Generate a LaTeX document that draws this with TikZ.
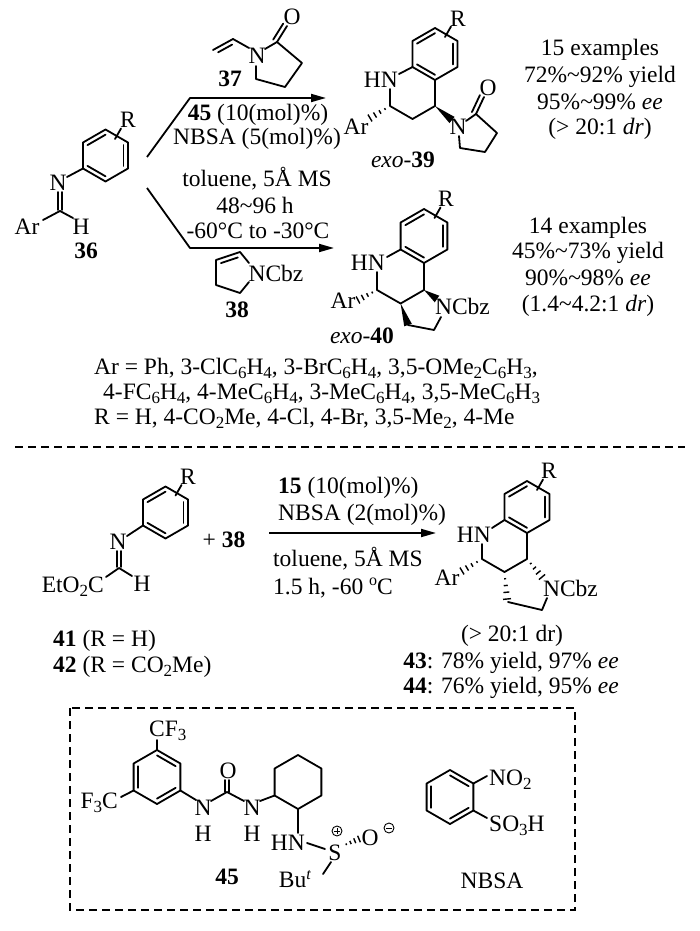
\documentclass[tikz,border=0pt]{standalone}
\usepackage{fontspec}
\setmainfont{Liberation Serif}
\usetikzlibrary{calc,arrows.meta}
\newcommand\fs{\fontsize{23.5}{27}\selectfont}
\newcommand\sub[1]{\raisebox{-4.5pt}{\fontsize{17}{17}\selectfont #1}}
\newcommand\sups[1]{\raisebox{8.5pt}{\fontsize{16}{16}\selectfont #1}}
\newcommand\hexcoords[4]{%
 \coordinate (#1c) at (#2,#3);
 \coordinate (#1T) at (#2,#3-#4);
 \coordinate (#1UR) at (#2+0.866*#4,#3-0.5*#4);
 \coordinate (#1LR) at (#2+0.866*#4,#3+0.5*#4);
 \coordinate (#1B) at (#2,#3+#4);
 \coordinate (#1LL) at (#2-0.866*#4,#3+0.5*#4);
 \coordinate (#1UL) at (#2-0.866*#4,#3-0.5*#4);}
\newcommand\hexdraw[1]{\draw[bd] (#1T)--(#1UR)--(#1LR)--(#1B)--(#1LL)--(#1UL)--cycle;}
\newcommand\innerbd[3]{\draw[bd] ($(#1)!0.2!(#3)$) -- ($(#2)!0.2!(#3)$);}
\newcommand\dblside[4]{\draw[bd] ($(#1)!#4!(#2)!#3!-90:(#2)$) -- ($(#2)!#4!(#1)!#3!90:(#1)$);}
\newcommand\wedgebd[3]{\fill (#1) -- ($(#2)!#3!90:(#1)$) -- ($(#2)!#3!-90:(#1)$) -- cycle;}
\newcommand\hashbd[3]{\foreach \t [evaluate=\t as \w using \t*#3] in {0.25,0.5,0.75,1.0}{\draw[hs] ($(#1)!\t!(#2)!\w pt!90:(#1)$) -- ($(#1)!\t!(#2)!\w pt!-90:(#1)$);}}
\begin{document}
\begin{tikzpicture}[x=1pt,y=-1pt,
  bd/.style={line width=1.8pt, line cap=round, line join=round},
  hs/.style={line width=1.4pt},
  tx/.style={inner sep=0pt, font=\fs},
  tb/.style={tx, anchor=base},
  arr/.style={line width=1.8pt, line join=round, -{Triangle[length=15pt,width=8pt]}},
  dsh/.style={line width=1.6pt, dash pattern=on 8pt off 5pt},
  chg/.style={circle, draw, line width=0.9pt, minimum size=10pt, inner sep=0pt}]
\useasboundingbox (0,0) rectangle (700,931);
\fill[white] (0,0) rectangle (700,931);

% ---------- 36 ----------
\hexcoords{a}{105.5}{155.5}{26}
\hexdraw{a}
\innerbd{aUL}{aT}{ac}\innerbd{aUR}{aLR}{ac}\innerbd{aB}{aLL}{ac}
\coordinate (aR1) at (115,139); \coordinate (aR2) at (121,128.5);
\draw[bd] (aR1)--(aR2);
\node[tx] (t36R) at (128,120) {R};
\node[tx] (t36N) at (58,183) {N};
\coordinate (a36N) at (67,177);
\draw[bd] (aLL)--(a36N);
\coordinate (a36Na) at (57.8,192); \coordinate (a36Ca) at (57.8,210);
\coordinate (a36Nb) at (62.2,192); \coordinate (a36Cb) at (62.2,210);
\draw[bd] (a36Na)--(a36Ca); \draw[bd] (a36Nb)--(a36Cb);
\coordinate (a36C) at (60,211);
\coordinate (a36Ar) at (43,220); \coordinate (a36H) at (73,218);
\draw[bd] (a36Ar)--(a36C)--(a36H);
\node[tx] (t36Ar) at (27,227) {Ar};
\node[tx] (t36H) at (81,227) {H};
\node[tx] (t36) at (86,251) {\textbf{36}};

% ---------- arrows ----------
\coordinate (ua0) at (147,157); \coordinate (ua1) at (190,98); \coordinate (ua2) at (326,98);
\draw[arr] (ua0)--(ua1)--(ua2);
\coordinate (la0) at (147,188); \coordinate (la1) at (190,248); \coordinate (la2) at (334,248);
\draw[arr] (la0)--(la1)--(la2);

\node[tb] (c1) at (258,121) {\textbf{45} (10(mol)\%)};
\node[tb] (c2) at (257,145) {NBSA (5(mol)\%)};
\node[tb] (c3) at (257,186) {toluene, 5Å MS};
\node[tb] (c4) at (255,213) {48\textasciitilde 96 h};
\node[tb] (c5) at (258,238) {-60°C to -30°C};

% ---------- 37 ----------
\coordinate (v1) at (213,50); \coordinate (v2) at (233,39); \coordinate (v3) at (249,48);
\draw[bd] (v1)--(v2)--(v3);
\dblside{v1}{v2}{4.5pt}{0.15}
\node[tx] (t37N) at (257,56) {N};
\coordinate (p37n1) at (265,49); \coordinate (p37c1) at (277,42); \coordinate (p37c2) at (302,63);
\coordinate (p37c3) at (285,87); \coordinate (p37c4) at (256,79); \coordinate (p37n2) at (256,66);
\draw[bd] (p37n1)--(p37c1)--(p37c2)--(p37c3)--(p37c4)--(p37n2);
\coordinate (p37o) at (287,26);
\draw[bd] (p37c1)--(p37o); \dblside{p37c1}{p37o}{-4.5pt}{0}
\node[tx] (t37O) at (292,17) {O};
\node[tx] (t37) at (230,79) {\textbf{37}};

% ---------- 38 ----------
\coordinate (p38a) at (216,260); \coordinate (p38b) at (240,252); \coordinate (p38bn) at (249,263);
\coordinate (p38e) at (216,285); \coordinate (p38d) at (240,293); \coordinate (p38dn) at (249,282);
\draw[bd] (p38bn)--(p38b)--(p38a)--(p38e)--(p38d)--(p38dn);
\dblside{p38a}{p38b}{4.5pt}{0.15}
\node[tx] (t38N) at (276,273) {NCbz};
\node[tx] (t38) at (237,310) {\textbf{38}};

% ---------- exo-39 ----------
\hexcoords{b}{435}{54}{26}
\hexdraw{b}
\innerbd{bUL}{bT}{bc}\innerbd{bUR}{bLR}{bc}\innerbd{bB}{bLL}{bc}
\coordinate (bR1) at (445,37); \coordinate (bR2) at (451,26.5);
\draw[bd] (bR1)--(bR2);
\node[tx] (t39R) at (458,19) {R};
\node[tx, anchor=east] (t39HN) at (398,80) {HN};
\coordinate (b39n1) at (399,74); \coordinate (b39n2) at (390,89);
\coordinate (b39c2) at (390,106); \coordinate (b39c3) at (412.5,119); \coordinate (b39c4) at (435,106);
\draw[bd] (bLL)--(b39n1);
\draw[bd] (b39n2)--(b39c2)--(b39c3)--(b39c4)--(bB);
\coordinate (b39ar) at (370,118);
\hashbd{b39c2}{b39ar}{4}
\node[tx] (t39Ar) at (356,127) {Ar};
\coordinate (b39np) at (452,120);
\wedgebd{b39c4}{b39np}{4pt}
\node[tx] (t39N) at (458,127) {N};
\coordinate (q1) at (466,121); \coordinate (q2) at (476,114); \coordinate (q3) at (497,133);
\coordinate (q4) at (485,152); \coordinate (q5) at (460,148); \coordinate (q6) at (459,136);
\draw[bd] (q1)--(q2)--(q3)--(q4)--(q5)--(q6);
\coordinate (qo) at (484,97);
\draw[bd] (q2)--(qo); \dblside{q2}{qo}{-4.5pt}{0}
\node[tx] (t39O) at (488,88) {O};
\node[tx] (t39) at (403,160) {\textit{exo}-\textbf{39}};

\node[tb] (s39a) at (600,56) {15 examples};
\node[tb] (s39b) at (600,83) {72\%\textasciitilde 92\% yield};
\node[tb] (s39c) at (600,110) {95\%\textasciitilde 99\% \textit{ee}};
\node[tb] (s39d) at (600,135) {(> 20:1 \textit{dr})};

% ---------- exo-40 ----------
\hexcoords{c}{424}{236}{27}
\hexdraw{c}
\innerbd{cUL}{cT}{cc}\innerbd{cUR}{cLR}{cc}\innerbd{cB}{cLL}{cc}
\coordinate (cR1) at (434.5,218); \coordinate (cR2) at (440.5,207.5);
\draw[bd] (cR1)--(cR2);
\node[tx] (t40R) at (446,199) {R};
\node[tx, anchor=east] (t40HN) at (385,263) {HN};
\coordinate (c40n1) at (387,257); \coordinate (c40n2) at (377,272);
\coordinate (c40c2) at (377,290); \coordinate (c40c3) at (400.6,303.5); \coordinate (c40c4) at (424,290);
\draw[bd] (cLL)--(c40n1);
\draw[bd] (c40n2)--(c40c2)--(c40c3)--(c40c4)--(cB);
\coordinate (c40ar) at (358,300);
\hashbd{c40c2}{c40ar}{4}
\node[tx] (t40Ar) at (343,301) {Ar};
\coordinate (c40np) at (437,299);
\wedgebd{c40c4}{c40np}{4pt}
\node[tx] (t40N) at (462.5,306) {NCbz};
\coordinate (c40p1) at (408,325); \coordinate (c40p2) at (434,330); \coordinate (c40p3) at (441,317);
\wedgebd{c40c3}{c40p1}{4pt}
\draw[bd] (c40p1)--(c40p2)--(c40p3);
\node[tx] (t40) at (362,336) {\textit{exo}-\textbf{40}};

\node[tb] (s40a) at (588,233) {14 examples};
\node[tb] (s40b) at (588,258) {45\%\textasciitilde 73\% yield};
\node[tb] (s40c) at (588,285) {90\%\textasciitilde 98\% \textit{ee}};
\node[tb] (s40d) at (588,311) {(1.4\textasciitilde 4.2:1 \textit{dr})};

% ---------- Ar / R lists ----------
\node[tb, anchor=base west] (l1) at (94,374) {Ar = Ph, 3-ClC\sub{6}H\sub{4}, 3-BrC\sub{6}H\sub{4}, 3,5-OMe\sub{2}C\sub{6}H\sub{3},};
\node[tb, anchor=base west] (l2) at (103,399) {4-FC\sub{6}H\sub{4}, 4-MeC\sub{6}H\sub{4}, 3-MeC\sub{6}H\sub{4}, 3,5-MeC\sub{6}H\sub{3}};
\node[tb, anchor=base west] (l3) at (94,424) {R = H, 4-CO\sub{2}Me, 4-Cl, 4-Br, 3,5-Me\sub{2}, 4-Me};

\coordinate (sepL) at (15,447); \coordinate (sepR) at (685,447);
\draw[dsh] (sepL)--(sepR);

% ---------- 41/42 ----------
\hexcoords{d}{165.5}{512.5}{26}
\hexdraw{d}
\innerbd{dUL}{dT}{dc}\innerbd{dUR}{dLR}{dc}\innerbd{dB}{dLL}{dc}
\coordinate (dR1) at (175.5,495.5); \coordinate (dR2) at (181.5,485);
\draw[bd] (dR1)--(dR2);
\node[tx] (t41R) at (188,477) {R};
\node[tx] (t41N) at (118,542) {N};
\coordinate (d41N) at (127,536);
\draw[bd] (dLL)--(d41N);
\coordinate (d41Na) at (116.8,551); \coordinate (d41Ca) at (116.8,567);
\coordinate (d41Nb) at (121.2,551); \coordinate (d41Cb) at (121.2,567);
\draw[bd] (d41Na)--(d41Ca); \draw[bd] (d41Nb)--(d41Cb);
\coordinate (d41C) at (119,568);
\coordinate (d41E) at (106,577); \coordinate (d41H) at (132,576);
\draw[bd] (d41E)--(d41C)--(d41H);
\node[tx] (t41H) at (142,584) {H};
\node[tb, anchor=base east] (t41E) at (104,592) {EtO\sub{2}C};
\node[tx] (t41p) at (224,540) {+ \textbf{38}};
\node[tb, anchor=base west] (t41) at (53,646) {\textbf{41} (R = H)};
\node[tb, anchor=base west] (t42) at (53,672) {\textbf{42} (R = CO\sub{2}Me)};

\coordinate (ma0) at (269,533); \coordinate (ma1) at (436,533);
\draw[arr] (ma0)--(ma1);
\node[tb, anchor=base west] (m1) at (278,493) {\textbf{15} (10(mol)\%)};
\node[tb, anchor=base west] (m2) at (278,520) {NBSA (2(mol)\%)};
\node[tb, anchor=base west] (m3) at (273,566) {toluene, 5Å MS};
\node[tb, anchor=base west] (m4) at (273,594) {1.5 h, -60 \sups{o}C};

% ---------- 43/44 ----------
\hexcoords{e}{527}{507}{26}
\hexdraw{e}
\innerbd{eUL}{eT}{ec}\innerbd{eUR}{eLR}{ec}\innerbd{eB}{eLL}{ec}
\coordinate (eR1) at (537,490); \coordinate (eR2) at (543,479.5);
\draw[bd] (eR1)--(eR2);
\node[tx] (t43R) at (549,471) {R};
\node[tx, anchor=east] (t43HN) at (491,535) {HN};
\coordinate (e43n1) at (492,528); \coordinate (e43n2) at (482,544);
\coordinate (e43c2) at (482,559); \coordinate (e43c3) at (504.5,572); \coordinate (e43c4) at (527,559);
\draw[bd] (eLL)--(e43n1);
\draw[bd] (e43n2)--(e43c2)--(e43c3)--(e43c4)--(eB);
\coordinate (e43ar) at (462,571);
\hashbd{e43c2}{e43ar}{4}
\node[tx] (t43Ar) at (447,578) {Ar};
\coordinate (e43np) at (542,577);
\hashbd{e43c4}{e43np}{4}
\node[tx] (t43N) at (570.5,588) {NCbz};
\coordinate (e43p1) at (507,599); \coordinate (e43p2) at (542,610); \coordinate (e43p3) at (547,598);
\hashbd{e43c3}{e43p1}{4}
\coordinate (e43p0) at (508,602);
\draw[bd] (e43p0)--(e43p2)--(e43p3);
\node[tb] (r43a) at (512,641) {(> 20:1 dr)};
\node[tb] (r43b) at (511,668) {\textbf{43}: 78\% yield, 97\% \textit{ee}};
\node[tb] (r43c) at (511,693) {\textbf{44}: 76\% yield, 95\% \textit{ee}};

% ---------- box ----------
\coordinate (boxA) at (70,708); \coordinate (boxB) at (575,910);
\draw[dsh] (boxA) rectangle (boxB);

% 45
\hexcoords{f}{157}{777}{27}
\hexdraw{f}
\innerbd{fUL}{fLL}{fc}\innerbd{fT}{fUR}{fc}\innerbd{fLR}{fB}{fc}
\coordinate (fcf) at (157,740); \draw[bd] (fT)--(fcf);
\node[tb, anchor=base west] (tCF3) at (149,736) {CF\sub{3}};
\coordinate (ff3) at (121,797); \draw[bd] (fLL)--(ff3);
\node[tb, anchor=base east] (tF3C) at (118,808) {F\sub{3}C};
\coordinate (fn1) at (196,800); \draw[bd] (fLR)--(fn1);
\node[tx] (t45N1) at (203,808) {N};
\node[tx] (t45H1) at (203,834) {H};
\coordinate (un1) at (211,801); \coordinate (uc) at (227,792); \coordinate (un2) at (244,801);
\draw[bd] (un1)--(uc)--(un2);
\coordinate (uo) at (227,780);
\draw[bd] ($(uc)+(-2.3,0)$)--($(uo)+(-2.3,0)$);
\draw[bd] ($(uc)+(2.3,0)$)--($(uo)+(2.3,0)$);
\node[tx] (t45O) at (228,771) {O};
\node[tx] (t45N2) at (252,808) {N};
\node[tx] (t45H2) at (252,834) {H};
\hexcoords{g}{298}{782}{27}
\hexdraw{g}
\coordinate (gn) at (260,801); \draw[bd] (gn)--(gLL);
\coordinate (gnh) at (298,833); \draw[bd] (gB)--(gnh);
\node[tx, anchor=east] (t45HN) at (305,843) {HN};
\coordinate (sh1) at (307,843); \coordinate (sh2) at (325,849); \draw[bd] (sh1)--(sh2);
\node[tx] (t45S) at (335,853) {S};
\node[chg] (t45sp) at (337,831) {};
\draw[line width=0.9pt] ([xshift=-3pt]t45sp.center)--([xshift=3pt]t45sp.center);
\draw[line width=0.9pt] ([yshift=-3pt]t45sp.center)--([yshift=3pt]t45sp.center);
\coordinate (so1) at (342,846); \coordinate (so2) at (359,839);
\hashbd{so1}{so2}{3.5}
\node[tx] (t45O2) at (370,838) {O};
\node[chg] (t45om) at (389,828) {};
\draw[line width=0.9pt] ([xshift=-3pt]t45om.center)--([xshift=3pt]t45om.center);
\coordinate (sb1) at (331,862); \coordinate (sb2) at (323,874); \draw[bd] (sb1)--(sb2);
\node[tx] (t45Bu) at (295,879) {Bu\sups{\textit{t}}};
\node[tx] (t45) at (227,877) {\textbf{45}};

% NBSA
\hexcoords{h}{450}{797}{27}
\hexdraw{h}
\innerbd{hUL}{hLL}{hc}\innerbd{hT}{hUR}{hc}\innerbd{hLR}{hB}{hc}
\coordinate (hno) at (487,776); \draw[bd] (hUR)--(hno);
\node[tb, anchor=base west] (tNO2) at (489,785) {NO\sub{2}};
\coordinate (hso) at (487,818); \draw[bd] (hLR)--(hso);
\node[tb, anchor=base west] (tSO3H) at (489,831) {SO\sub{3}H};
\node[tb] (tNBSA) at (492,888) {NBSA};
\end{tikzpicture}
\end{document}
